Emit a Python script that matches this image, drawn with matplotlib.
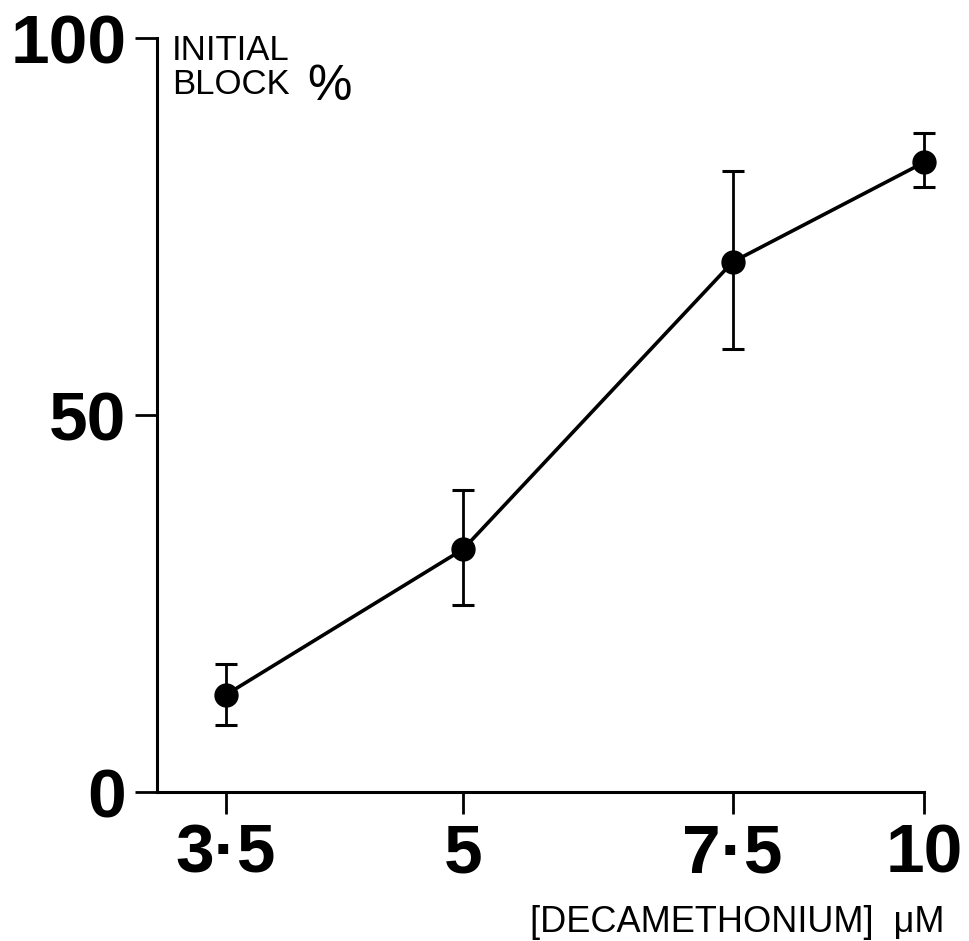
import numpy as np
import matplotlib
matplotlib.use('Agg')
import matplotlib.pyplot as plt
from matplotlib.ticker import NullLocator

# concentration (uM) vs initial block (%)
conc = [3.5, 5, 7.5, 10]
block = [12.9, 32.2, 70.3, 83.5]
err_hi = [17.0, 40.1, 82.3, 87.4]
err_lo = [8.9, 24.8, 58.7, 80.3]
xtick_labels = ['3·5', '5', '7·5', '10']
yticks = [0, 50, 100]

plt.rcParams['font.family'] = ['Liberation Sans', 'DejaVu Sans']

fig = plt.figure(figsize=(9.69, 9.41), dpi=100)
ax = fig.add_axes([0.162, 0.1583, 0.7915, 0.8013])

yerr = [np.array(block) - np.array(err_lo), np.array(err_hi) - np.array(block)]
ax.errorbar(conc, block, yerr=yerr, fmt='o-', color='black', ms=16.5, lw=2.6,
            elinewidth=2.0, capsize=8, capthick=2.2, clip_on=False, zorder=3)

ax.set_xscale('log')
ax.set_xlim(3.155, 10)
ax.set_ylim(0, 100)
ax.xaxis.set_minor_locator(NullLocator())
ax.set_xticks(conc)
ax.set_xticklabels(xtick_labels)
ax.set_yticks(yticks)
ax.set_yticklabels([str(v) for v in yticks])

for s in ['top', 'right']:
    ax.spines[s].set_visible(False)
for s in ['left', 'bottom']:
    ax.spines[s].set_linewidth(2.2)

ax.tick_params(axis='both', which='major', length=16, width=2.0,
               direction='out', pad=6, labelsize=50)
for lab in ax.get_xticklabels() + ax.get_yticklabels():
    lab.set_fontweight('bold')

fig.text(172 / 969, 1 - 34 / 941, 'INITIAL\nBLOCK', fontsize=25,
         ha='left', va='top', linespacing=1.05)
fig.text(307 / 969, 1 - 100 / 941, '%', fontsize=36, ha='left', va='baseline')
fig.text(530 / 969, 1 - 932 / 941, '[DECAMETHONIUM]  μM', fontsize=26,
         ha='left', va='baseline')

fig.savefig('out.png', dpi=100)
